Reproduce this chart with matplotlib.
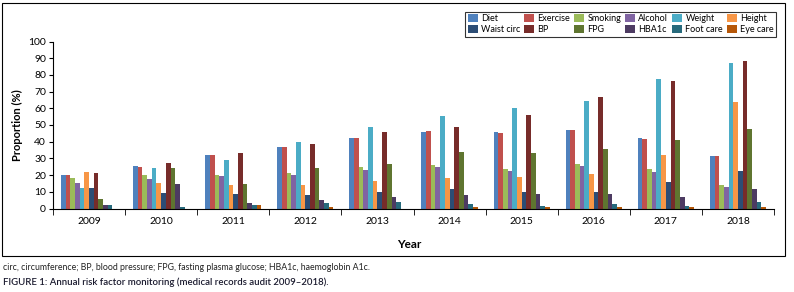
import numpy as np
import matplotlib
matplotlib.use('Agg')
from matplotlib import pyplot as plt
from matplotlib.patches import Rectangle

plt.rcParams['font.family'] = ['Lato', 'DejaVu Sans']

years = ['2009', '2010', '2011', '2012', '2013', '2014', '2015', '2016', '2017', '2018']
series = ['Diet', 'Exercise', 'Smoking', 'Alcohol', 'Weight', 'Height',
          'Waist circ', 'BP', 'FPG', 'HBA1c', 'Foot care', 'Eye care']
colors = ['#4F81BD', '#C0504D', '#9BBB59', '#8064A2', '#4BACC6', '#F79646',
          '#2C4D75', '#772C2A', '#5F7530', '#4D3B62', '#276A7C', '#B65708']

# valeurs par annee (%)
diet = [20, 25.5, 32, 37, 42, 46, 46, 47, 42, 31.5]
exercise = [20, 25, 32, 37, 42, 46.5, 45.3, 47, 41.5, 31.5]
smoking = [18, 19.8, 20.2, 21.4, 24.6, 26.1, 23.8, 26.7, 23.8, 14.2]
alcohol = [15.4, 17.4, 19.2, 20.2, 23.2, 24.6, 22.6, 25.5, 22, 13]
weight = [12, 24.4, 29.1, 39.9, 48.9, 55.5, 60.3, 64.5, 77.6, 87.2]
height = [22, 15, 13.8, 13.8, 16.6, 18.4, 19, 20.8, 32.1, 63.9]
waist = [12.4, 9, 8.4, 7.8, 10, 11.8, 10, 10, 16, 22.6]
bp = [21.4, 27.3, 33.3, 38.7, 45.9, 48.9, 56.1, 66.9, 76.4, 88.4]
fpg = [5.8, 24, 14.4, 24, 26.7, 33.9, 33.3, 35.7, 41.1, 47.7]
hba1c = [1.8, 14.4, 3.4, 5.2, 7, 8.2, 8.8, 8.8, 7, 11.8]
foot = [1.8, 1, 2.2, 3, 4, 2.8, 1.6, 2.8, 1.6, 4]
eye = [0, 0, 2.2, 1, 0, 1, 1, 1, 1, 1]
data = [diet, exercise, smoking, alcohol, weight, height,
        waist, bp, fpg, hba1c, foot, eye]

fig = plt.figure(figsize=(7.94, 2.92), dpi=100)
ax = fig.add_axes([53 / 794, 1 - 208.5 / 292, (774 - 53) / 794, (208.5 - 41.5) / 292])

x = np.arange(len(years))
n = len(series)
group_w = 0.78
w = group_w / n
handles = []
for i, (name, vals) in enumerate(zip(series, data)):
    b = ax.bar(x - group_w / 2 + w * (i + 0.5), vals, width=w, color=colors[i], label=name)
    handles.append(b)

ax.set_xlim(-0.5, len(years) - 0.5)
ax.set_ylim(0, 100)
ax.set_yticks(range(0, 101, 10))
ax.set_xticks(x)
ax.set_xticklabels(years)
ax.set_xticks(np.arange(-0.5, len(years)), minor=True)
ax.tick_params(axis='x', which='major', length=0, labelsize=7.5, pad=6)
ax.tick_params(axis='x', which='minor', length=4, direction='out', color='black')
ax.tick_params(axis='y', length=3, direction='out', labelsize=7.5, pad=2)
for s in ['top', 'right']:
    ax.spines[s].set_visible(False)
ax.spines['left'].set_linewidth(0.8)
ax.spines['bottom'].set_linewidth(0.8)

ax.set_ylabel('Proportion (%)', fontsize=8, fontweight='bold', labelpad=4)
fig.text(409 / 794, 1 - 244 / 292, 'Year', fontsize=8.5, fontweight='bold',
         ha='center', va='center')

# legende remplie ligne par ligne (6 colonnes)
order = [0, 6, 1, 7, 2, 8, 3, 9, 4, 10, 5, 11]
leg = fig.legend([handles[k] for k in order], [series[k] for k in order],
                 loc='upper right', bbox_to_anchor=(781 / 794, 1 - 7 / 292), ncol=6,
                 fontsize=6.5, frameon=True, fancybox=False, edgecolor='black',
                 handlelength=1.1, handleheight=1.0, handletextpad=0.35,
                 columnspacing=0.45, labelspacing=0.2, borderpad=0.3)
leg.get_frame().set_linewidth(0.8)

# cadre exterieur
fig.patches.append(Rectangle((2 / 794, 1 - 256 / 292), (785 - 2) / 794, (256 - 3) / 292,
                             transform=fig.transFigure, fill=False,
                             edgecolor='black', linewidth=0.8))

fig.text(3 / 794, 1 - 268 / 292,
         'circ, circumference; BP, blood pressure; FPG, fasting plasma glucose; HBA1c, haemoglobin A1c.',
         fontsize=6.3, va='center', ha='left', color='#222222')
fig.text(3 / 794, 1 - 282 / 292,
         'FIGURE 1: Annual risk factor monitoring (medical records audit 2009\u20132018).',
         fontsize=6.9, va='center', ha='left', color='#1a1a2e', fontweight='semibold')

fig.savefig('out.png', dpi=100)
